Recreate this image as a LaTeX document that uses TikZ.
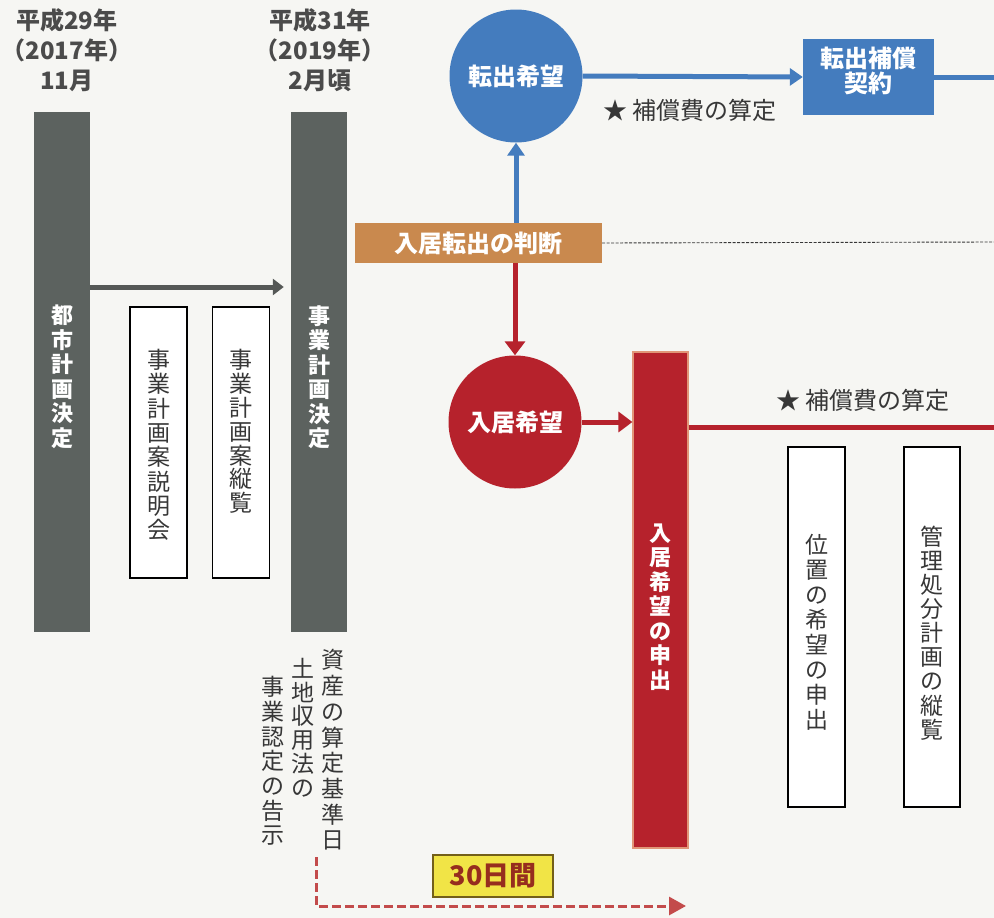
\documentclass[tikz,border=0pt]{standalone}
\usepackage{fontspec}
\setmainfont{Noto Sans CJK JP}
\usetikzlibrary{arrows.meta}
\definecolor{paper}{RGB}{246,246,243}
\definecolor{bargray}{RGB}{92,98,95}
\definecolor{arrgray}{RGB}{85,88,86}
\definecolor{cblue}{RGB}{68,124,190}
\definecolor{corange}{RGB}{201,137,78}
\definecolor{cred}{RGB}{182,34,44}
\definecolor{credge}{RGB}{225,150,120}
\definecolor{cyellow}{RGB}{241,228,70}
\definecolor{cyborder}{RGB}{115,95,25}
\definecolor{cbrown}{RGB}{150,45,30}
\definecolor{cdash}{RGB}{195,75,75}
\definecolor{ctext}{RGB}{55,55,55}
\definecolor{chdr}{RGB}{75,75,75}
\tikzset{
  graybar/.style={fill=bargray, draw=none, minimum width=56pt, minimum height=520pt, inner sep=0pt},
  vbox/.style={draw=black, line width=1.3pt, fill=white, minimum width=57pt, minimum height=271pt, inner sep=0pt},
  vboxb/.style={vbox, minimum height=360pt},
  vwhite/.style={align=center, inner sep=0pt, text=white, font=\bfseries\fontsize{22}{24.5}\selectfont},
  vthin/.style={align=center, inner sep=0pt, text=ctext, font=\fontsize{23}{#1}\selectfont},
  hdr/.style={align=center, inner sep=0pt, text=chdr, font=\bfseries\fontsize{24}{30}\selectfont},
  circ/.style={circle, inner sep=0pt, minimum size=133pt, text=white, font=\bfseries\fontsize{24}{26}\selectfont},
  startext/.style={inner sep=0pt, text=ctext, font=\fontsize{24}{26}\selectfont},
  bluearrow/.style={draw=cblue, line width=5pt, -{Triangle[length=13pt,width=17pt]}},
  blueline/.style={draw=cblue, line width=5pt},
  redarrow/.style={draw=cred, line width=5pt, -{Triangle[length=14pt,width=20pt]}},
  redline/.style={draw=cred, line width=5pt},
  grayarrow/.style={draw=arrgray, line width=5pt, -{Triangle[length=11pt,width=16pt]}},
  thindash/.style={draw=ctext, line width=0.9pt, dash pattern=on 3pt off 1.5pt},
  reddash/.style={draw=cdash, line width=3pt, dash pattern=on 9pt off 4pt, -{Triangle[length=17pt,width=18pt]}},
}
\begin{document}
\begin{tikzpicture}[x=1pt,y=-1pt]
\fill[paper] (0,0) rectangle (994,918);
\useasboundingbox (0,0) rectangle (994,918);

% headers
\node[hdr] (h1) at (67,50) {平成29年\\（2017年）\\11月};
\node[hdr] (h2) at (320,50) {平成31年\\（2019年）\\2月頃};

% gray bars
\node[graybar] (toshi) at (62,372) {};
\node[vwhite] (toshit) at (62,377) {都\\市\\計\\画\\決\\定};
\node[graybar] (jigyo) at (319,372) {};
\node[vwhite] (jigyot) at (319,377) {事\\業\\計\\画\\決\\定};

% gray arrow
\draw[grayarrow, shorten >=7pt] (toshi.east |- 0,287) -- (jigyo.west |- 0,287);

% white boxes left
\node[vbox] (setsumei) at (158.5,442.5) {};
\node[vthin=24.3] (setsumeit) at (158.5,445) {事\\業\\計\\画\\案\\説\\明\\会};
\node[vbox] (juran) at (241,442.5) {};
\node[vthin=23.8] (jurant) at (241,431.5) {事\\業\\計\\画\\案\\縦\\覧};

% text below right bar
\node[vthin=25.7] (kijun) at (333,750) {資\\産\\の\\算\\定\\基\\準\\日};
\node[vthin=23.8] (shuyo) at (303,727.5) {土\\地\\収\\用\\法\\の};
\node[vthin=24.7] (kokuji) at (273,761) {事\\業\\認\\定\\の\\告\\示};

% blue part
\node[circ, fill=cblue] (tenshutsu) at (516,76) {転出希望};
\node[fill=cblue, minimum width=131pt, minimum height=76pt, inner sep=0pt] (keiyaku) at (868.5,77) {};
\node[align=center, inner sep=0pt, text=white, font=\bfseries\fontsize{24}{25}\selectfont] (keiyakut) at (868.5,71) {転出補償\\契約};
\coordinate (e1) at (994,77);
\draw[bluearrow] (tenshutsu.east) -- (keiyaku.west);
\draw[blueline] (keiyaku.east) -- (e1);
\node[startext] (hosho1) at (690,110) {★ 補償費の算定};

% orange
\node[fill=corange, minimum width=247pt, minimum height=40pt, inner sep=0pt, text=white, font=\bfseries\fontsize{24}{26}\selectfont] (handan) at (478.5,243) {入居転出の判断};
\coordinate (e3) at (994,242);
\draw[thindash] (handan.east) -- (e3);
\draw[bluearrow] (tenshutsu.south |- handan.north) -- (tenshutsu.south);

% red part
\node[circ, fill=cred] (nyukyo) at (515,422) {入居希望};
\draw[redarrow] (nyukyo.north |- handan.south) -- (nyukyo.north);
\node[fill=cred, draw=credge, line width=1.2pt, minimum width=55pt, minimum height=496pt, inner sep=0pt] (moshide) at (660.5,600) {};
\node[vwhite] (moshidet) at (660.5,607) {入\\居\\希\\望\\の\\申\\出};
\draw[redarrow] (nyukyo.east) -- (moshide.west |- nyukyo.east);
\coordinate (e2) at (994,427);
\draw[redline] (moshide.east |- e2) -- (e2);
\node[startext] (hosho2) at (863,400) {★ 補償費の算定};

% right white boxes
\node[vboxb] (ichi) at (816.5,627) {};
\node[vthin=25] (ichit) at (816.5,632) {位\\置\\の\\希\\望\\の\\申\\出};
\node[vboxb, minimum width=56pt] (kanri) at (932,627) {};
\node[vthin=24.1] (kanrit) at (932,633) {管\\理\\処\\分\\計\\画\\の\\縦\\覧};

% 30 days
\coordinate (ds) at (316,857);
\coordinate (de) at (686,906);
\draw[reddash] (ds) |- (de);
\node[fill=cyellow, draw=cyborder, line width=1.5pt, minimum width=120pt, minimum height=42pt, inner sep=0pt, text=cbrown, font=\bfseries\fontsize{27}{28}\selectfont] (sanju) at (493,876) {30日間};
\end{tikzpicture}
\end{document}
